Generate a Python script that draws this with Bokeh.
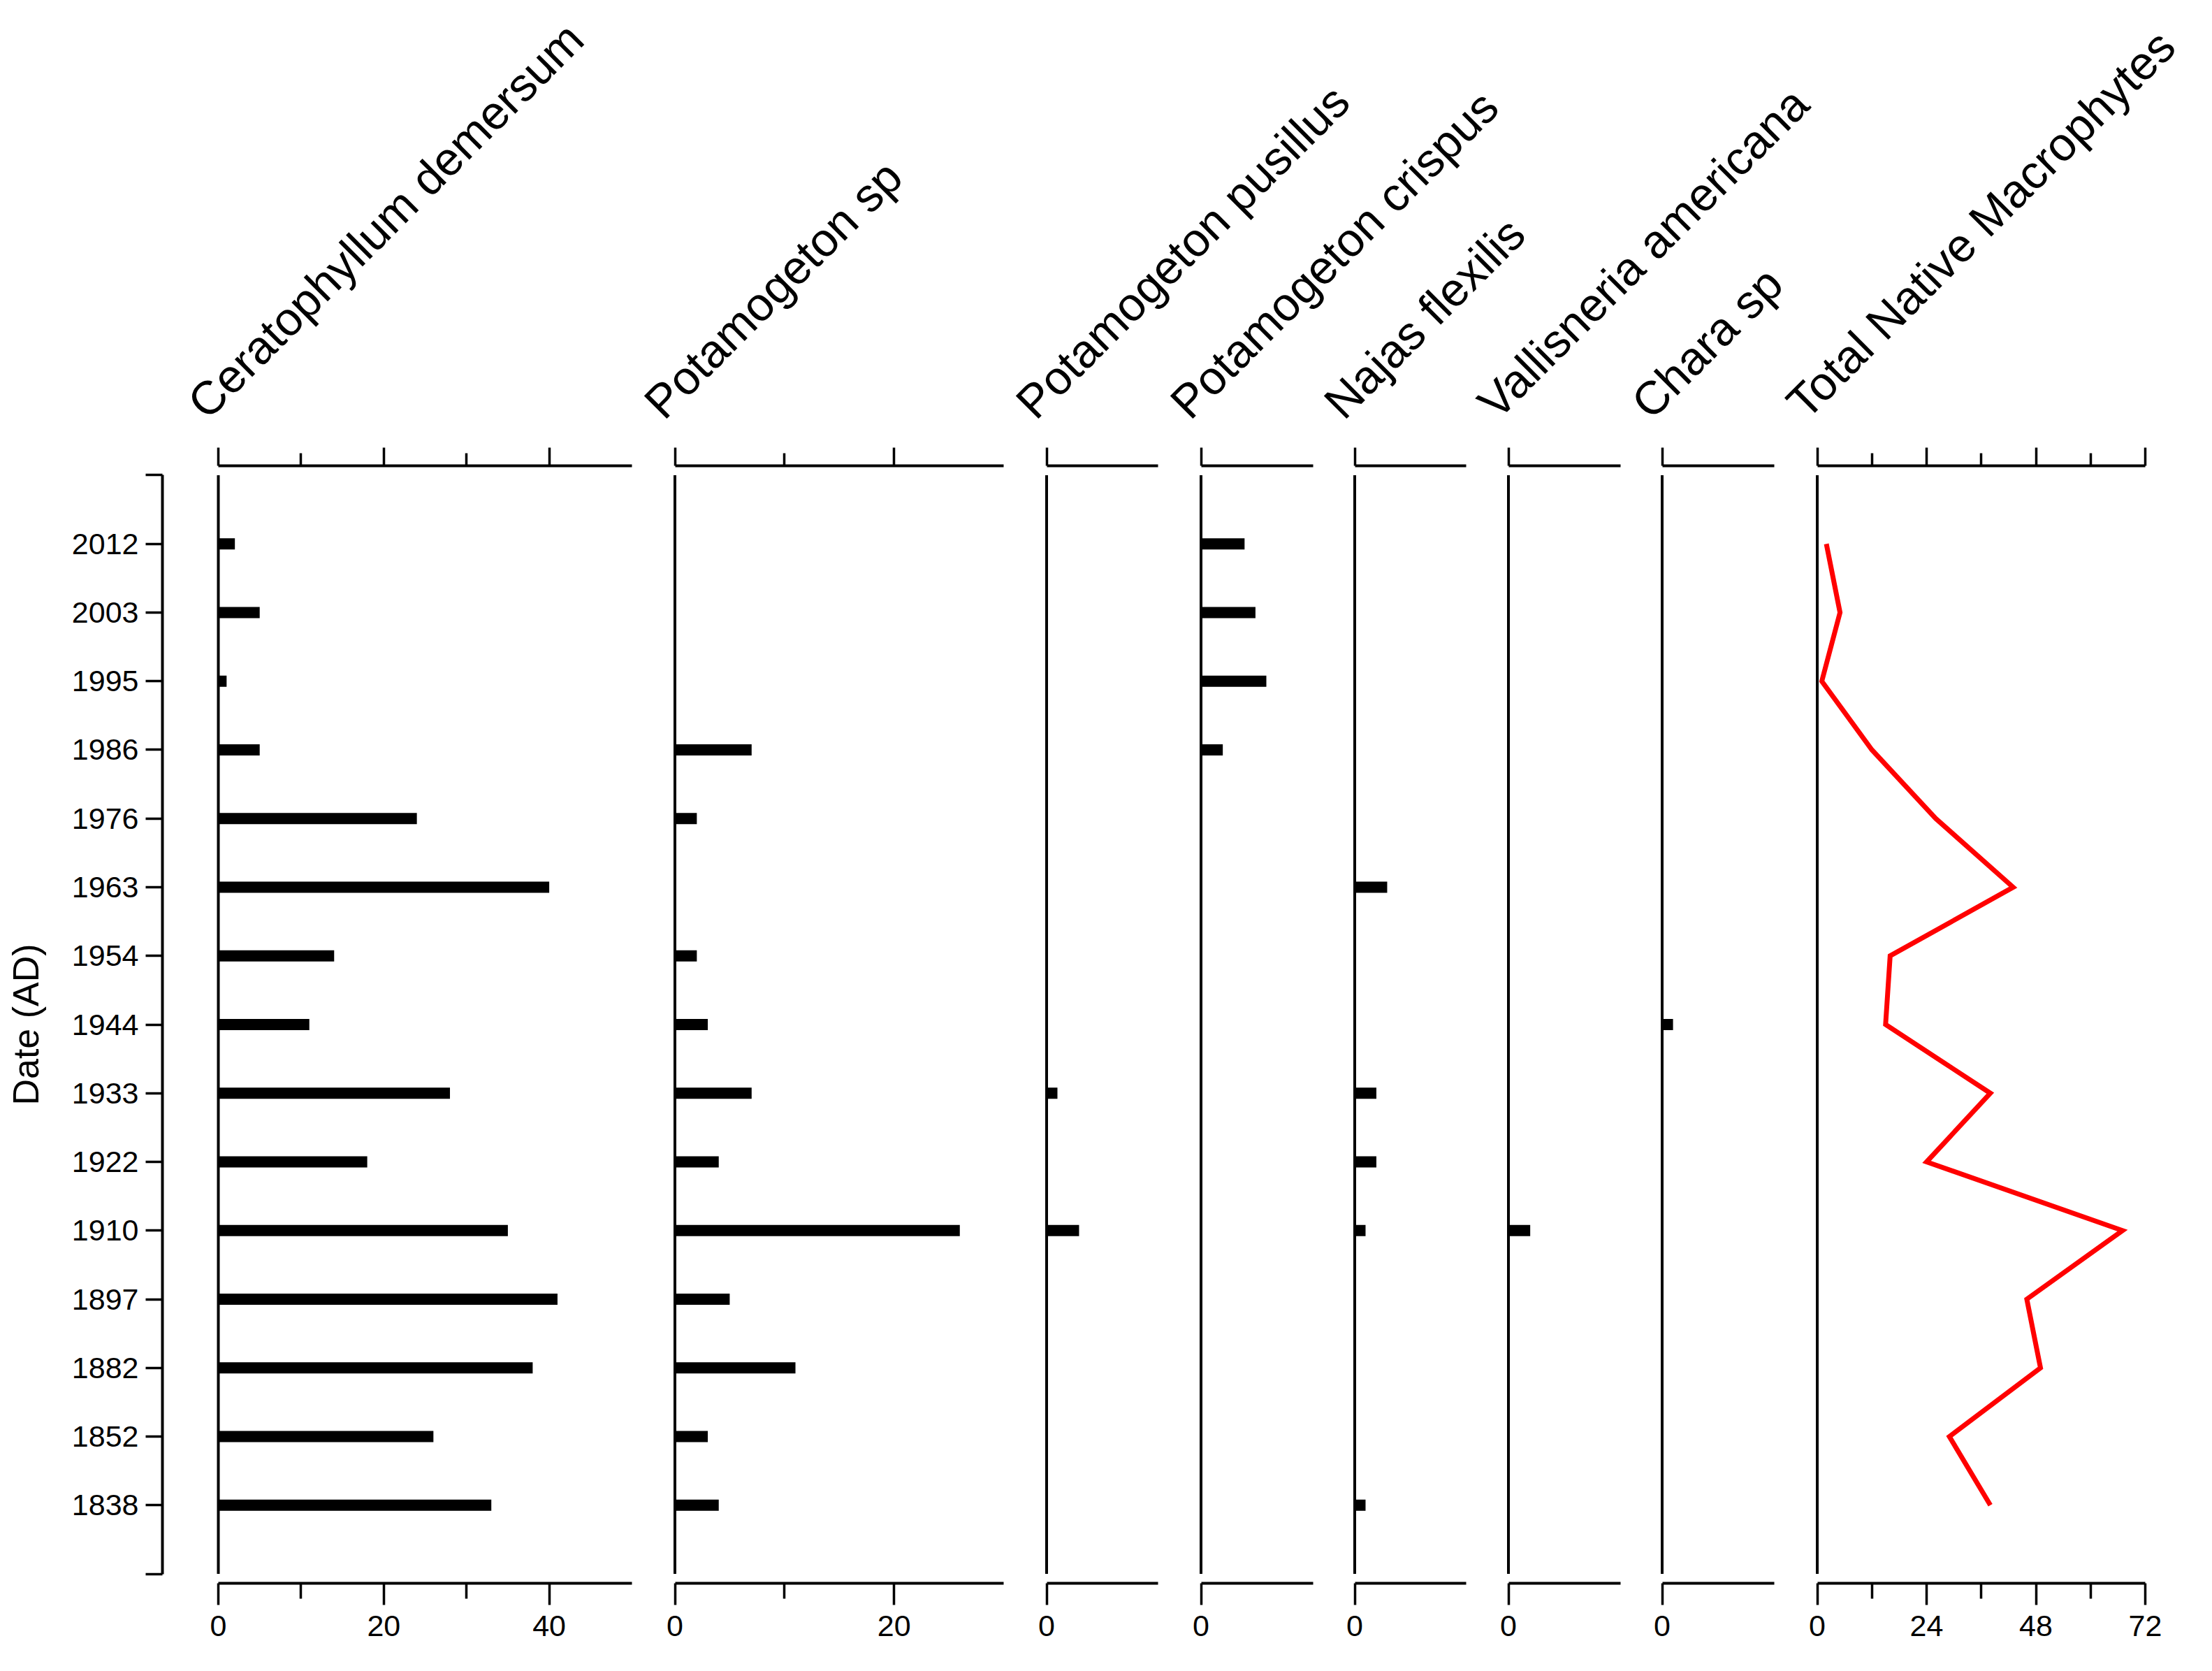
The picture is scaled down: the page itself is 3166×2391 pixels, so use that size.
import math
from bokeh.plotting import figure
from bokeh.layouts import row, column
from bokeh.models import Range1d, LinearAxis, FixedTicker, CustomJSTickFormatter
from bokeh.core.properties import value
from bokeh.embed import file_html
from bokeh.resources import INLINE

# ---------------- data ----------------
years = ["2012", "2003", "1995", "1986", "1976", "1963", "1954", "1944",
         "1933", "1922", "1910", "1897", "1882", "1852", "1838"]
ceratophyllum_demersum = [2, 5, 1, 5, 24, 40, 14, 11, 28, 18, 35, 41, 38, 26, 33]
potamogeton_sp = [0, 0, 0, 7, 2, 0, 2, 3, 7, 4, 26, 5, 11, 3, 4]
potamogeton_pusillus = [0, 0, 0, 0, 0, 0, 0, 0, 1, 0, 3, 0, 0, 0, 0]
potamogeton_crispus = [4, 5, 6, 2, 0, 0, 0, 0, 0, 0, 0, 0, 0, 0, 0]
najas_flexilis = [0, 0, 0, 0, 0, 3, 0, 0, 2, 2, 1, 0, 0, 0, 1]
vallisneria_americana = [0, 0, 0, 0, 0, 0, 0, 0, 0, 0, 2, 0, 0, 0, 0]
chara_sp = [0, 0, 0, 0, 0, 0, 0, 1, 0, 0, 0, 0, 0, 0, 0]
total_native = [2, 5, 1, 12, 26, 43, 16, 15, 38, 24, 67, 46, 49, 29, 38]

titles = ["Ceratophyllum demersum", "Potamogeton sp", "Potamogeton pusillus",
          "Potamogeton crispus", "Najas flexilis", "Vallisneria americana",
          "Chara sp", "Total Native Macrophytes"]
series = [ceratophyllum_demersum, potamogeton_sp, potamogeton_pusillus,
          potamogeton_crispus, najas_flexilis, vallisneria_americana, chara_sp,
          total_native]
x_max = [50, 30, 10.3, 10.3, 10.3, 10.3, 10.3, 72]
major_ticks = [[0, 20, 40], [0, 20], [0], [0], [0], [0], [0], [0, 24, 48, 72]]
minor_ticks = [[10, 30], [10], [], [], [], [], [], [12, 36, 60]]

# ---------------- layout (pixels of the reference picture) ----------------
ORIGIN = 0
zero_px = [312, 965.5, 1497.5, 1718.5, 1938.5, 2158.5, 2378.5, 2600.5]
end_px = [904, 1436, 1657, 1879, 2098, 2319, 2539, 3070]
date_axis_px = 232
FRAME_TOP = 666
FRAME_BOTTOM = 2265
Y_START, Y_END = -1.137, 15.137     # sample-index range shown by the frame
BORDER_TOP = 45
BORDER_BOTTOM = 110
TITLE_H = FRAME_TOP - ORIGIN - BORDER_TOP
PANEL_H = BORDER_TOP + (FRAME_BOTTOM - FRAME_TOP) + BORDER_BOTTOM
FONT = "Liberation Sans"
TICK_FONT = "43px"
TITLE_DX = -32
TITLE_BASE = 586

frame_left = [date_axis_px] + [z - 4 for z in zero_px[1:]]
frame_right = end_px
bounds_px = [ORIGIN]
for k in range(len(titles) - 1):
    bounds_px.append(int(round((frame_right[k] + frame_left[k + 1]) / 2)))
bounds_px.append(end_px[-1] + 72)
TOTAL_W = bounds_px[-1] - ORIGIN

idx = list(range(len(years)))
BAR_H = 0.163

panels = []
for k in range(len(titles)):
    fl = int(round(frame_left[k]))
    fr = int(round(frame_right[k]))
    ppu = (end_px[k] - zero_px[k]) / x_max[k]
    xs = (fl - zero_px[k]) / ppu
    xe = (fr - zero_px[k]) / ppu
    w = bounds_px[k + 1] - bounds_px[k]
    p = figure(width=w, height=PANEL_H, title=None,
               x_range=Range1d(xs, xe), y_range=Range1d(Y_END, Y_START),
               x_axis_type=None, y_axis_type=None,
               min_border_left=fl - bounds_px[k], min_border_right=bounds_px[k + 1] - fr,
               min_border_top=BORDER_TOP, min_border_bottom=BORDER_BOTTOM,
               toolbar_location=None, output_backend="svg",
               outline_line_color=None, background_fill_color="white",
               border_fill_color="white")

    # top axis (ticks only)
    top = LinearAxis(ticker=FixedTicker(ticks=major_ticks[k], minor_ticks=minor_ticks[k]),
                     bounds=(0, x_max[k]),
                     formatter=CustomJSTickFormatter(code="return ''"))
    top.major_label_text_font_size = "1px"
    top.major_label_standoff = 2
    top.major_tick_in = 0
    top.major_tick_out = 26
    top.minor_tick_in = 0
    top.minor_tick_out = 18
    top.axis_line_width = 4
    top.major_tick_line_width = 3.5
    top.minor_tick_line_width = 3.5
    top.axis_line_color = "black"
    p.add_layout(top, "above")

    # bottom axis
    bot = LinearAxis(ticker=FixedTicker(ticks=major_ticks[k], minor_ticks=minor_ticks[k]),
                     bounds=(0, x_max[k]))
    bot.major_tick_in = 0
    bot.major_tick_out = 31
    bot.minor_tick_in = 0
    bot.minor_tick_out = 22
    bot.axis_line_width = 4
    bot.major_tick_line_width = 3.5
    bot.minor_tick_line_width = 3.5
    bot.major_label_standoff = 15
    bot.major_label_text_font = FONT
    bot.major_label_text_font_size = TICK_FONT
    bot.major_label_text_color = "black"
    p.add_layout(bot, "below")

    if k == 0:
        left = LinearAxis(ticker=FixedTicker(ticks=[-1] + idx + [len(years)]),
                          bounds=(-1, len(years)))
        ov = {i: y for i, y in zip(idx, years)}
        ov[-1] = ""
        ov[len(years)] = ""
        left.major_label_overrides = ov
        left.major_tick_in = 0
        left.major_tick_out = 24
        left.axis_line_width = 4
        left.major_tick_line_width = 3.5
        left.major_label_standoff = 10
        left.major_label_text_font = FONT
        left.major_label_text_font_size = TICK_FONT
        left.major_label_text_color = "black"
        left.axis_label = "Date (AD)"
        left.axis_label_text_font = FONT
        left.axis_label_text_font_size = "52px"
        left.axis_label_text_font_style = "normal"
        left.axis_label_text_color = "black"
        left.axis_label_standoff = 34
        p.add_layout(left, "left")

    # zero line of the panel
    p.segment(x0=[0], y0=[-1], x1=[0], y1=[len(years)], line_width=4, line_color="black")

    if k == len(titles) - 1:
        p.line(x=series[k], y=idx, line_color="#ff0000", line_width=7, line_join="miter")
    else:
        p.hbar(y=idx, left=0, right=series[k], height=BAR_H,
               fill_color="black", line_color=None)
    panels.append(p)

# ---------------- rotated titles ----------------
tf = figure(width=TOTAL_W, height=TITLE_H, title=None,
            x_range=Range1d(ORIGIN, ORIGIN + TOTAL_W), y_range=Range1d(0, TITLE_H),
            x_axis_type=None, y_axis_type=None, min_border=0,
            min_border_left=0, min_border_right=0, min_border_top=0, min_border_bottom=0,
            toolbar_location=None, output_backend="svg", outline_line_color=None)
tf.text(x=[z + TITLE_DX for z in zero_px], y=[TITLE_H - (TITLE_BASE - ORIGIN)] * len(titles),
        text=titles, angle=math.pi / 4, text_font=value(FONT), text_font_size="67px",
        text_align="left", text_baseline="alphabetic", text_color="black")

layout = column(tf, row(*panels, spacing=0), spacing=0)
open("out.html", "w").write(file_html(layout, INLINE))
